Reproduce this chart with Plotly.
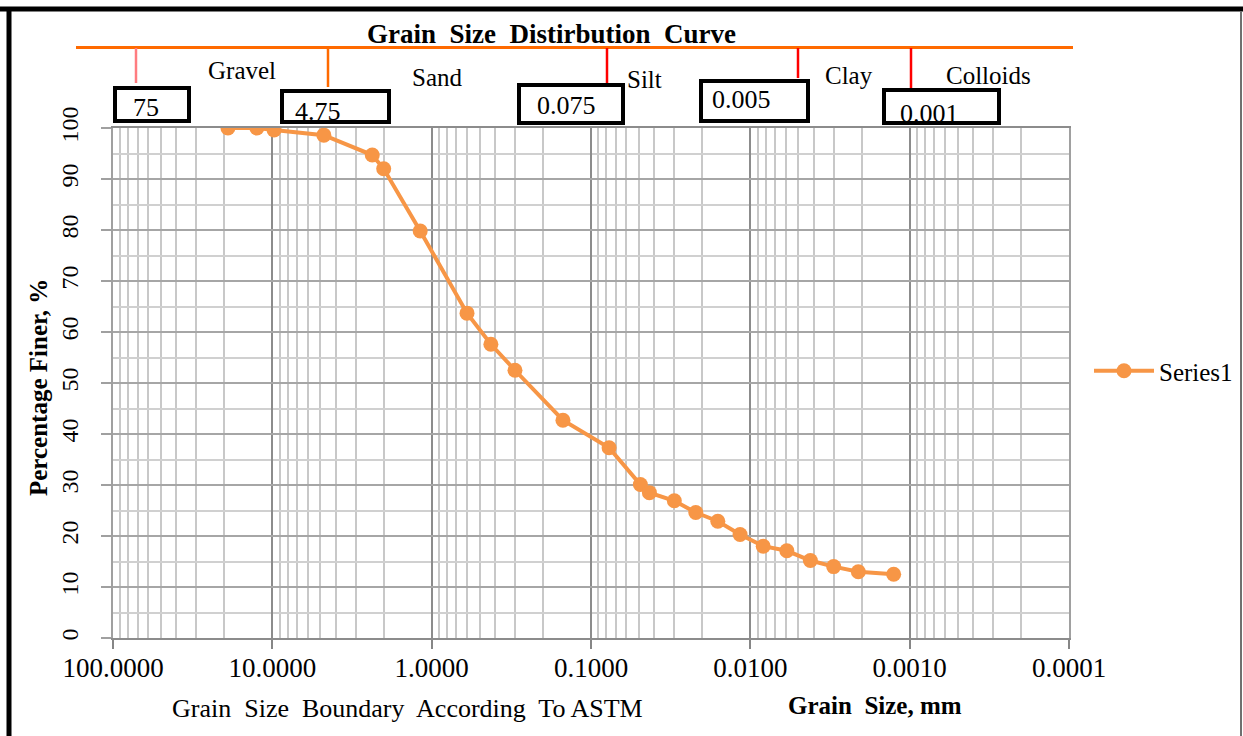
import plotly.graph_objects as go
import numpy as np

# ---------------- data ----------------
grain_size_mm = [19.0, 12.5, 9.75, 4.75, 2.36, 2.0, 1.18, 0.6, 0.425, 0.3, 0.15, 0.077,
                 0.049, 0.043, 0.030, 0.022, 0.016, 0.0116, 0.0083, 0.0059, 0.0042,
                 0.0030, 0.0021, 0.00126]
percent_finer = [100, 100, 99.6, 98.6, 94.7, 92.0, 79.8, 63.7, 57.6, 52.5, 42.7, 37.3,
                 30.1, 28.5, 26.9, 24.6, 22.9, 20.3, 18.0, 17.1, 15.2, 14.0, 13.0, 12.5]
series_name = "Series1"

x_tick_vals = [100, 10, 1, 0.1, 0.01, 0.001, 0.0001]
x_tick_text = ["100.0000", "10.0000", "1.0000", "0.1000", "0.0100", "0.0010", "0.0001"]

boundary_labels = ["75", "4.75", "0.075", "0.005", "0.001"]
soil_classes = ["Gravel", "Sand", "Silt", "Clay", "Colloids"]

title_text = "Grain\u00a0 Size\u00a0 Distirbution\u00a0 Curve"
y_title = "Percentage Finer, %"
x_note = "Grain\u00a0 Size\u00a0 Boundary\u00a0 According\u00a0 To ASTM"
x_title = "Grain\u00a0 Size, mm"

# ---------------- layout geometry ----------------
W, H = 1243, 736
L, R, T, B = 113, 1069, 128, 638
SERIF = "Liberation Serif"
ORANGE = "#F79646"


def px(x):
    return (x - L) / (R - L)


def py(y):
    return (B - y) / (B - T)


fig = go.Figure()
fig.add_trace(go.Scatter(
    x=grain_size_mm, y=percent_finer, mode="lines+markers", name=series_name,
    line=dict(color=ORANGE, width=4),
    marker=dict(color=ORANGE, size=15, symbol="circle"),
))

shapes = []
annotations = []

# outer frame
shapes.append(dict(type="line", xref="paper", yref="paper", x0=px(0), x1=px(W), y0=py(9), y1=py(9),
                   line=dict(color="black", width=5)))
shapes.append(dict(type="line", xref="paper", yref="paper", x0=px(9), x1=px(9), y0=py(7), y1=py(740),
                   line=dict(color="black", width=5)))
shapes.append(dict(type="line", xref="paper", yref="paper", x0=px(1241), x1=px(1241), y0=py(11), y1=py(740),
                   line=dict(color="#707070", width=2)))

# orange bar under title
shapes.append(dict(type="line", xref="paper", yref="paper", x0=px(76), x1=px(1073), y0=py(47.5), y1=py(47.5),
                   line=dict(color="#FF6A00", width=3)))

# boundary drop lines
drops = [(136, 83, "#FF7C80"), (328, 87, "#FF6A00"), (607, 83, "#FF0000"),
         (798, 78, "#FF0000"), (911, 88, "#FF0000")]
for xp, yend, col in drops:
    shapes.append(dict(type="line", xref="paper", yref="paper", x0=px(xp), x1=px(xp),
                       y0=py(48), y1=py(yend), line=dict(color=col, width=2.5)))

# boxes
boxes = [(115, 189, 88, 121), (282, 389, 91, 122), (519, 623, 85, 123),
         (701, 808, 81, 121), (884, 999, 90, 123)]
for x0, x1, y0, y1 in boxes:
    shapes.append(dict(type="rect", xref="paper", yref="paper", x0=px(x0), x1=px(x1),
                       y0=py(y0), y1=py(y1), line=dict(color="black", width=4),
                       fillcolor="white", layer="above"))

box_text_pos = [(146, 108), (318, 112), (566, 106), (741, 100), (929, 113)]
for txt, (xp, yp) in zip(boundary_labels, box_text_pos):
    annotations.append(dict(text=txt, xref="paper", yref="paper", x=px(xp), y=py(yp),
                            showarrow=False, xanchor="center", yanchor="middle",
                            font=dict(family=SERIF, size=26, color="black")))

class_pos = [(242, 71), (437, 78), (644, 80), (849, 76), (988, 76)]
for txt, (xp, yp) in zip(soil_classes, class_pos):
    annotations.append(dict(text=txt, xref="paper", yref="paper", x=px(xp), y=py(yp),
                            showarrow=False, xanchor="center", yanchor="middle",
                            font=dict(family=SERIF, size=25, color="black")))

annotations.append(dict(text="<b>" + title_text + "</b>", xref="paper", yref="paper",
                        x=px(551), y=py(34), showarrow=False, xanchor="center", yanchor="middle",
                        font=dict(family=SERIF, size=27, color="black")))
annotations.append(dict(text="<b>" + y_title + "</b>", xref="paper", yref="paper",
                        x=px(38), y=py(388), showarrow=False, textangle=-90,
                        xanchor="center", yanchor="middle",
                        font=dict(family=SERIF, size=25, color="black")))
annotations.append(dict(text=x_note, xref="paper", yref="paper",
                        x=px(407), y=py(708), showarrow=False, xanchor="center", yanchor="middle",
                        font=dict(family=SERIF, size=26, color="black")))
annotations.append(dict(text="<b>" + x_title + "</b>", xref="paper", yref="paper",
                        x=px(875), y=py(705), showarrow=False, xanchor="center", yanchor="middle",
                        font=dict(family=SERIF, size=25, color="black")))

fig.update_layout(
    width=W, height=H,
    margin=dict(l=L, r=W - R, t=T, b=H - B, pad=0, autoexpand=False),
    paper_bgcolor="white", plot_bgcolor="white",
    font=dict(family=SERIF, size=20, color="black"),
    shapes=shapes, annotations=annotations,
    showlegend=True,
    legend=dict(x=px(1089), y=py(371), xanchor="left", yanchor="middle",
                font=dict(family=SERIF, size=25, color="black"),
                bgcolor="rgba(0,0,0,0)", itemwidth=60),
)

fig.update_xaxes(
    type="log", range=[2, -4],
    tickvals=x_tick_vals, ticktext=x_tick_text,
    tickfont=dict(family=SERIF, size=27, color="black"),
    ticks="outside", ticklen=9, tickcolor="#868686", tickwidth=1.5,
    showgrid=True, gridcolor="#8C8C8C", gridwidth=1.5,
    minor=dict(showgrid=True, gridcolor="#C8C8C8", gridwidth=1.5, dtick="D1", ticks=""),
    showline=True, linecolor="#8C8C8C", linewidth=1.5, mirror=True,
    zeroline=False, ticklabelstandoff=-4,
)
fig.update_yaxes(
    range=[0, 100], dtick=10, tickangle=-90,
    tickfont=dict(family=SERIF, size=24, color="black"),
    ticks="outside", ticklen=10, tickcolor="#A0A0A0", tickwidth=1.5,
    showgrid=True, gridcolor="#A6A6A6", gridwidth=1.5,
    minor=dict(showgrid=True, gridcolor="#D0D0D0", gridwidth=1.5, dtick=5, ticks=""),
    showline=True, linecolor="#A0A0A0", linewidth=1.5, mirror=True,
    zeroline=False, ticklabelstandoff=14,
)

fig.write_html("out.html")
